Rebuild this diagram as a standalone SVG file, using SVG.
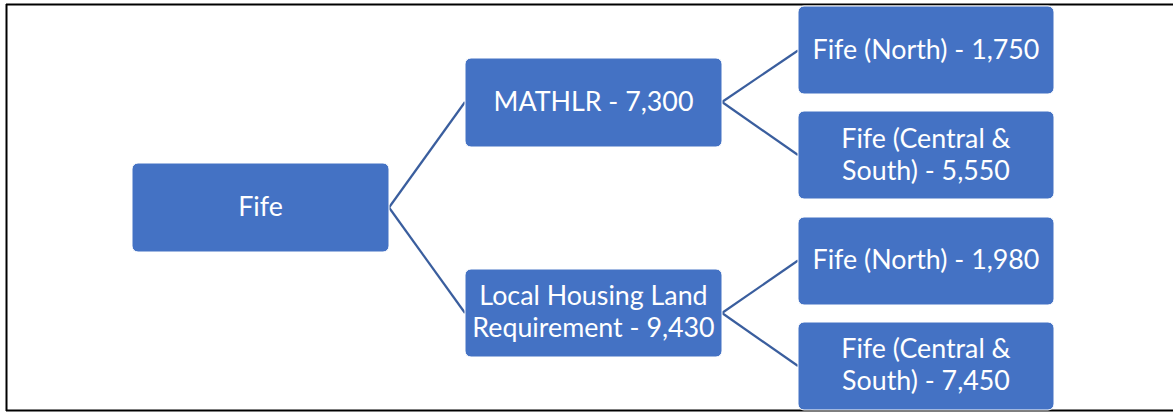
<svg xmlns="http://www.w3.org/2000/svg" width="1173" height="412" viewBox="0 0 1173 412">
  <style>
    .node rect { fill: #4472C4; stroke: #FFFFFF; stroke-width: 1; }
    .node text { fill: #FFFFFF; font-family: Lato, "Open Sans", "Liberation Sans", sans-serif; font-size: 26.8px; text-anchor: middle; }
    .conn line { stroke: #3A5E9E; stroke-width: 2.2; fill: none; }
    .frame { stroke: #000000; stroke-width: 2; fill: none; }
  </style>
  <rect x="0" y="0" width="1173" height="412" fill="#FFFFFF"/>
  <g id="frame">
    <line class="frame" x1="6" y1="4.5" x2="1173" y2="4.5"/>
    <line class="frame" x1="6.5" y1="4" x2="6.5" y2="411"/>
    <line class="frame" x1="6" y1="410.5" x2="1173" y2="410.5"/>
  </g>
  <g id="connectors" class="conn">
    <line x1="389" y1="207.5" x2="465" y2="102"/>
    <line x1="389" y1="207.5" x2="465" y2="313"/>
    <line x1="722" y1="102" x2="798" y2="50.5"/>
    <line x1="722" y1="102" x2="798" y2="155"/>
    <line x1="722" y1="313" x2="798" y2="260.5"/>
    <line x1="722" y1="313" x2="798" y2="366"/>
  </g>
  <g id="node-fife" class="node">
    <rect x="132" y="163" width="257" height="89" rx="6"/>
    <text x="260.5" y="216">Fife</text>
  </g>
  <g id="node-mathlr" class="node">
    <rect x="465" y="58" width="257" height="89" rx="6"/>
    <text x="593.5" y="111">MATHLR - 7,300</text>
  </g>
  <g id="node-lhlr" class="node">
    <rect x="465" y="269" width="257" height="88" rx="6"/>
    <text x="593.5" y="305">Local Housing Land</text>
    <text x="593.5" y="337">Requirement - 9,430</text>
  </g>
  <g id="node-north-1" class="node">
    <rect x="798" y="6" width="256" height="88" rx="6"/>
    <text x="926" y="58.5">Fife (North) - 1,750</text>
  </g>
  <g id="node-cs-1" class="node">
    <rect x="798" y="111" width="256" height="88" rx="6"/>
    <text x="926" y="147.5">Fife (Central &amp;</text>
    <text x="926" y="179.5">South) - 5,550</text>
  </g>
  <g id="node-north-2" class="node">
    <rect x="798" y="217" width="256" height="88" rx="6"/>
    <text x="926" y="269">Fife (North) - 1,980</text>
  </g>
  <g id="node-cs-2" class="node">
    <rect x="798" y="322" width="256" height="88" rx="6"/>
    <text x="926" y="358">Fife (Central &amp;</text>
    <text x="926" y="390">South) - 7,450</text>
  </g>
</svg>
